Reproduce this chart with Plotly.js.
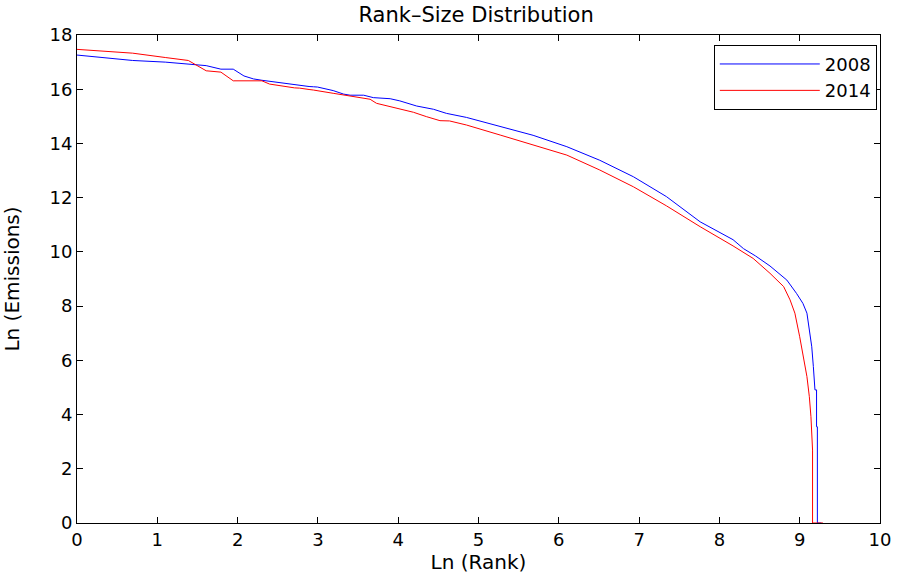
<!DOCTYPE html>
<html>
<head>
<meta charset="utf-8">
<script src="https://cdn.plot.ly/plotly-3.0.1.min.js"></script>
<style>html,body{margin:0;padding:0;background:#fff;}#chart{width:900px;height:578px;}</style>
</head>
<body>
<div id="chart"></div>
<script>
// Ln(Rank) and Ln(Emissions)
const rank2008 = [0, 0.693, 1.099, 1.386, 1.609, 1.792, 1.946, 2.079, 2.197, 2.303, 2.398, 2.485, 2.565, 2.639, 2.708, 2.773, 2.833, 2.890, 2.944, 2.996,
  3.19, 3.32, 3.40, 3.57, 3.69, 3.90, 4.02, 4.23, 4.44, 4.60, 4.85, 5.27, 5.68, 6.10, 6.51, 6.93, 7.34, 7.76, 8.17, 8.30, 8.45, 8.63, 8.84,
  8.96, 9.04, 9.09, 9.13, 9.15, 9.17, 9.19, 9.21, 9.21, 9.22, 9.22, 9.27];
const size2008 = [17.26, 17.06, 17.00, 16.94, 16.87, 16.74, 16.74, 16.49, 16.38, 16.33, 16.29, 16.26, 16.22, 16.20, 16.16, 16.14, 16.12, 16.10, 16.09, 16.08,
  15.95, 15.82, 15.78, 15.78, 15.69, 15.65, 15.57, 15.38, 15.26, 15.11, 14.96, 14.62, 14.30, 13.88, 13.38, 12.77, 12.04, 11.11, 10.45, 10.12, 9.85, 9.48, 8.96,
  8.47, 8.10, 7.74, 7.00, 6.50, 5.77, 4.91, 4.91, 3.55, 3.55, 0, 0];

const rank2014 = [0, 0.693, 1.099, 1.386, 1.609, 1.792, 1.946, 2.079, 2.197, 2.303, 2.398, 2.485, 2.565, 2.639, 2.708, 2.773, 2.833, 2.890, 2.944, 2.996,
  3.19, 3.40, 3.65, 3.73, 3.86, 4.02, 4.19, 4.35, 4.52, 4.64, 4.85, 5.27, 5.68, 6.10, 6.51, 6.93, 7.34, 7.76, 8.17, 8.28, 8.42, 8.63, 8.80,
  8.88, 8.94, 9.00, 9.05, 9.09, 9.12, 9.14, 9.16, 9.16, 9.29];
const size2014 = [17.47, 17.33, 17.17, 17.06, 16.68, 16.63, 16.31, 16.31, 16.31, 16.31, 16.19, 16.15, 16.10, 16.06, 16.05, 16.04, 16.00, 15.99, 15.97, 15.95,
  15.85, 15.75, 15.63, 15.48, 15.38, 15.26, 15.15, 14.99, 14.84, 14.83, 14.68, 14.31, 13.94, 13.57, 13.02, 12.40, 11.70, 10.93, 10.22, 10.02, 9.76, 9.21, 8.72,
  8.23, 7.74, 6.87, 6.13, 5.40, 4.66, 3.92, 2.69, 0, 0];

const seriesNames = ['2008', '2014'];
const xTicks = [0,1,2,3,4,5,6,7,8,9,10];
const yTicks = [0,2,4,6,8,10,12,14,16,18];

const font = 'DejaVu Sans, Liberation Sans, Arial, sans-serif';

const traces = [
  {x: rank2008, y: size2008, name: seriesNames[0], type: 'scatter', mode: 'lines', line: {color: '#0000ff', width: 1}},
  {x: rank2014, y: size2014, name: seriesNames[1], type: 'scatter', mode: 'lines', line: {color: '#ff0000', width: 1}}
];

const axisCommon = {
  showline: true, mirror: 'ticks', linecolor: '#000', linewidth: 1,
  ticks: 'inside', ticklen: 6, tickcolor: '#000', tickwidth: 1,
  showgrid: false, zeroline: false,
  tickfont: {family: font, size: 18, color: '#000'}
};

const layout = {
  width: 900, height: 578,
  margin: {l: 77, r: 20, t: 35, b: 55},
  paper_bgcolor: '#fff', plot_bgcolor: '#fff',
  title: {text: 'Rank–Size Distribution', font: {family: font, size: 21, color: '#000'}, x: 0.529, xanchor: 'center', y: 0.974, yanchor: 'middle'},
  xaxis: Object.assign({}, axisCommon, {range: [0, 10], tickvals: xTicks, ticktext: xTicks.map(String),
    title: {text: 'Ln (Rank)', font: {family: font, size: 20, color: '#000'}, standoff: 0}}),
  yaxis: Object.assign({}, axisCommon, {range: [0, 18], tickvals: yTicks, ticktext: yTicks.map(String),
    title: {text: 'Ln (Emissions)', font: {family: font, size: 20, color: '#000'}, standoff: 24}}),
  showlegend: true,
  legend: {x: 0.996, y: 0.98, xanchor: 'right', yanchor: 'top', bordercolor: '#000', borderwidth: 1,
    bgcolor: '#fff', font: {family: font, size: 18, color: '#000'}, tracegroupgap: 0, itemwidth: 100}
};

Plotly.newPlot('chart', traces, layout, {displayModeBar: false, staticPlot: true});
</script>
</body>
</html>
